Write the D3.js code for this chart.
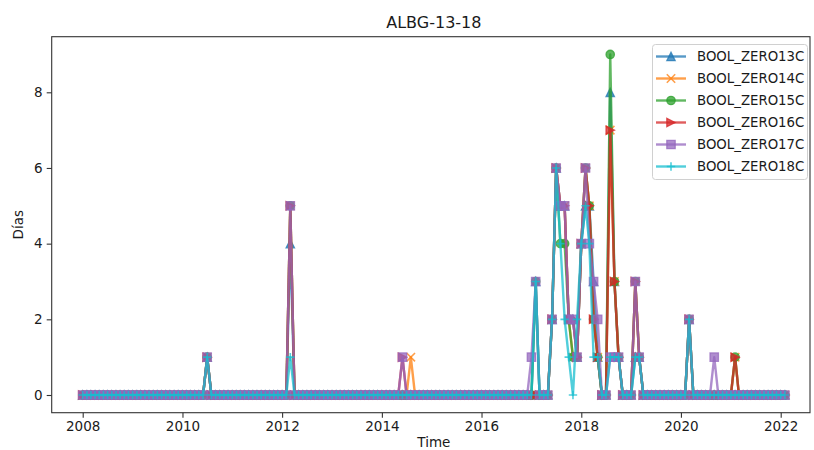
<!DOCTYPE html>
<html><head><meta charset="utf-8">
<script src="https://cdn.jsdelivr.net/npm/d3@7"></script>
<style>
body{margin:0;background:#fff}
svg{display:block}
text{font-family:"DejaVu Sans",sans-serif;fill:#1a1a1a}
</style>
</head><body>
<svg id="chart" width="814" height="450"></svg>
<script>
// ---------- data (monthly, 2008-01 .. 2022-02) ----------
const title = "ALBG-13-18";
const xLabel = "Time";
const yLabel = "Días";
const seriesNames = ["BOOL_ZERO13C","BOOL_ZERO14C","BOOL_ZERO15C","BOOL_ZERO16C","BOOL_ZERO17C","BOOL_ZERO18C"];
const seriesColors = ["#1f77b4","#ff7f0e","#2ca02c","#d62728","#9467bd","#17becf"];
const seriesMarkers = ["triangleUp","x","circle","triangleRight","square","plus"];
const xTickYears = [2008,2010,2012,2014,2016,2018,2020,2022];
const yTickValues = [0,2,4,6,8];
const firstMonth = new Date(2008,0,1);
const endMonth = new Date(2022,2,1); // exclusive

const bool13 = [
 0,0,0,0,0,0,0,0,0,0,0,0, // 2008
 0,0,0,0,0,0,0,0,0,0,0,0, // 2009
 0,0,0,0,0,0,1,0,0,0,0,0, // 2010
 0,0,0,0,0,0,0,0,0,0,0,0, // 2011
 0,0,4,0,0,0,0,0,0,0,0,0, // 2012
 0,0,0,0,0,0,0,0,0,0,0,0, // 2013
 0,0,0,0,0,0,0,0,0,0,0,0, // 2014
 0,0,0,0,0,0,0,0,0,0,0,0, // 2015
 0,0,0,0,0,0,0,0,0,0,0,0, // 2016
 0,3,0,0,0,2,6,5,5,2,2,1, // 2017
 4,5,5,3,1,0,0,8,3,1,0,0, // 2018
 0,1,1,0,0,0,0,0,0,0,0,0, // 2019
 0,0,2,0,0,0,0,0,0,0,0,0, // 2020
 0,0,0,0,0,0,0,0,0,0,0,0, // 2021
 0,0                      // 2022
];
const bool14 = [
 0,0,0,0,0,0,0,0,0,0,0,0,
 0,0,0,0,0,0,0,0,0,0,0,0,
 0,0,0,0,0,0,1,0,0,0,0,0,
 0,0,0,0,0,0,0,0,0,0,0,0,
 0,0,5,0,0,0,0,0,0,0,0,0,
 0,0,0,0,0,0,0,0,0,0,0,0,
 0,0,0,0,0,0,0,1,0,0,0,0,
 0,0,0,0,0,0,0,0,0,0,0,0,
 0,0,0,0,0,0,0,0,0,0,0,0,
 0,0,0,0,0,2,6,5,5,2,1,1,
 4,6,5,2,1,0,0,7,3,1,0,0,
 0,3,1,0,0,0,0,0,0,0,0,0,
 0,0,2,0,0,0,0,0,0,0,0,0,
 0,1,0,0,0,0,0,0,0,0,0,0,
 0,0
];
const bool15 = [
 0,0,0,0,0,0,0,0,0,0,0,0,
 0,0,0,0,0,0,0,0,0,0,0,0,
 0,0,0,0,0,0,1,0,0,0,0,0,
 0,0,0,0,0,0,0,0,0,0,0,0,
 0,0,5,0,0,0,0,0,0,0,0,0,
 0,0,0,0,0,0,0,0,0,0,0,0,
 0,0,0,0,0,0,0,0,0,0,0,0,
 0,0,0,0,0,0,0,0,0,0,0,0,
 0,0,0,0,0,0,0,0,0,0,0,0,
 0,3,0,0,0,2,6,4,4,2,1,1,
 4,6,5,2,1,0,0,9,3,1,0,0,
 0,3,1,0,0,0,0,0,0,0,0,0,
 0,0,2,0,0,0,0,0,0,0,0,0,
 0,1,0,0,0,0,0,0,0,0,0,0,
 0,0
];
const bool16 = [
 0,0,0,0,0,0,0,0,0,0,0,0,
 0,0,0,0,0,0,0,0,0,0,0,0,
 0,0,0,0,0,0,1,0,0,0,0,0,
 0,0,0,0,0,0,0,0,0,0,0,0,
 0,0,5,0,0,0,0,0,0,0,0,0,
 0,0,0,0,0,0,0,0,0,0,0,0,
 0,0,0,0,0,1,0,0,0,0,0,0,
 0,0,0,0,0,0,0,0,0,0,0,0,
 0,0,0,0,0,0,0,0,0,0,0,0,
 0,0,0,0,0,2,6,5,5,2,2,1,
 4,6,5,2,1,0,0,7,3,1,0,0,
 0,3,1,0,0,0,0,0,0,0,0,0,
 0,0,2,0,0,0,0,0,0,0,0,0,
 0,1,0,0,0,0,0,0,0,0,0,0,
 0,0
];
const bool17 = [
 0,0,0,0,0,0,0,0,0,0,0,0,
 0,0,0,0,0,0,0,0,0,0,0,0,
 0,0,0,0,0,0,1,0,0,0,0,0,
 0,0,0,0,0,0,0,0,0,0,0,0,
 0,0,5,0,0,0,0,0,0,0,0,0,
 0,0,0,0,0,0,0,0,0,0,0,0,
 0,0,0,0,0,1,0,0,0,0,0,0,
 0,0,0,0,0,0,0,0,0,0,0,0,
 0,0,0,0,0,0,0,0,0,0,0,0,
 1,3,0,0,0,2,6,5,5,2,2,1,
 4,6,4,3,2,0,0,1,1,1,0,0,
 0,3,1,0,0,0,0,0,0,0,0,0,
 0,0,2,0,0,0,0,0,1,0,0,0,
 0,0,0,0,0,0,0,0,0,0,0,0,
 0,0
];
const bool18 = [
 0,0,0,0,0,0,0,0,0,0,0,0,
 0,0,0,0,0,0,0,0,0,0,0,0,
 0,0,0,0,0,0,1,0,0,0,0,0,
 0,0,0,0,0,0,0,0,0,0,0,0,
 0,0,1,0,0,0,0,0,0,0,0,0,
 0,0,0,0,0,0,0,0,0,0,0,0,
 0,0,0,0,0,0,0,0,0,0,0,0,
 0,0,0,0,0,0,0,0,0,0,0,0,
 0,0,0,0,0,0,0,0,0,0,0,0,
 0,3,0,0,0,2,6,4,2,1,0,2,
 4,5,4,1,1,0,0,1,1,1,0,0,
 0,1,1,0,0,0,0,0,0,0,0,0,
 0,0,2,0,0,0,0,0,0,0,0,0,
 0,0,0,0,0,0,0,0,0,0,0,0,
 0,0
];
const seriesValues = [bool13,bool14,bool15,bool16,bool17,bool18];

// ---------- layout ----------
const svg = d3.select("#chart");
const plot = {left:51.7, right:810, top:36.7, bottom:412.7};
const dates = d3.timeMonth.range(firstMonth, endMonth);

const x = d3.scaleTime()
  .domain([new Date(2008,0,1), new Date(2022,0,1)])
  .range([82.7, 780.7]);
const y = d3.scaleLinear()
  .domain([0, 8])
  .range([395, 92.3]);

const alpha = 0.75;
const msize = 8.4;

function markerPath(type, s){
  const h = s/2;
  switch(type){
    case "triangleUp": return `M0,${-h}L${-h},${h}L${h},${h}Z`;
    case "triangleRight": return `M${h},0L${-h},${-h}L${-h},${h}Z`;
    case "square": return `M${-h},${-h}H${h}V${h}H${-h}Z`;
    case "circle": return `M${h},0A${h},${h},0,1,1,${-h},0A${h},${h},0,1,1,${h},0Z`;
    case "x": return `M${-h},${-h}L${h},${h}M${-h},${h}L${h},${-h}`;
    case "plus": return `M${-h},0H${h}M0,${-h}V${h}`;
  }
}
function drawMarker(g, type, color, cx, cy){
  const open = (type==="x"||type==="plus");
  g.append("path")
    .attr("d", markerPath(type, msize))
    .attr("transform", `translate(${cx},${cy})`)
    .attr("fill", open ? "none" : color)
    .attr("fill-opacity", alpha)
    .attr("stroke", color)
    .attr("stroke-opacity", alpha)
    .attr("stroke-width", open ? 1.6 : 1.3)
    .attr("stroke-linejoin","miter");
}

// ---------- series ----------
const line = d3.line().x(d=>x(d.date)).y(d=>y(d.value));
const gSeries = svg.append("g");
seriesNames.forEach((name,i)=>{
  const pts = dates.map((d,j)=>({date:d, value:seriesValues[i][j]}));
  const g = gSeries.append("g");
  g.append("path")
    .datum(pts)
    .attr("d", line)
    .attr("fill","none")
    .attr("stroke", seriesColors[i])
    .attr("stroke-opacity", alpha)
    .attr("stroke-width", 2.4)
    .attr("stroke-linejoin","round");
  pts.forEach(p=>drawMarker(g, seriesMarkers[i], seriesColors[i], x(p.date), y(p.value)));
});

// ---------- axes ----------
svg.append("rect")
  .attr("x", plot.left).attr("y", plot.top)
  .attr("width", plot.right-plot.left).attr("height", plot.bottom-plot.top)
  .attr("fill","none").attr("stroke","#333").attr("stroke-width",1.1);

const xAxis = d3.axisBottom(x)
  .tickValues(xTickYears.map(yy=>new Date(yy,0,1)))
  .tickFormat(d3.timeFormat("%Y"))
  .tickSize(5).tickPadding(4);
const gx = svg.append("g").attr("transform",`translate(0,${plot.bottom})`).call(xAxis);
gx.select(".domain").remove();
gx.selectAll(".tick line").attr("stroke","#333").attr("stroke-width",1.1);
gx.selectAll(".tick text").attr("font-size","13.5px").attr("fill","#1a1a1a")
  .attr("font-family","DejaVu Sans, sans-serif");

const yAxis = d3.axisLeft(y).tickValues(yTickValues).tickSize(5).tickPadding(4);
const gy = svg.append("g").attr("transform",`translate(${plot.left},0)`).call(yAxis);
gy.select(".domain").remove();
gy.selectAll(".tick line").attr("stroke","#333").attr("stroke-width",1.1);
gy.selectAll(".tick text").attr("font-size","13.5px").attr("fill","#1a1a1a")
  .attr("font-family","DejaVu Sans, sans-serif");

// ---------- labels ----------
svg.append("text").attr("x",(plot.left+plot.right)/2+3).attr("y",28)
  .attr("text-anchor","middle").attr("font-size","16px").text(title);
svg.append("text").attr("x",(plot.left+plot.right)/2+3).attr("y",447)
  .attr("text-anchor","middle").attr("font-size","13.5px").text(xLabel);
svg.append("text").attr("transform",`translate(23,${(plot.top+plot.bottom)/2}) rotate(-90)`)
  .attr("text-anchor","middle").attr("font-size","13.5px").text(yLabel);

// ---------- legend ----------
const lg = svg.append("g");
lg.append("rect").attr("x",652.5).attr("y",44.5).attr("width",155).attr("height",135)
  .attr("rx",3).attr("fill","#fff").attr("fill-opacity",0.8)
  .attr("stroke","#d0d0d0").attr("stroke-width",1);
seriesNames.forEach((name,i)=>{
  const cy = 56.5 + i*22;
  lg.append("line").attr("x1",656).attr("x2",686).attr("y1",cy).attr("y2",cy)
    .attr("stroke",seriesColors[i]).attr("stroke-opacity",alpha).attr("stroke-width",2.4);
  drawMarker(lg, seriesMarkers[i], seriesColors[i], 671, cy);
  lg.append("text").attr("x",697).attr("y",cy).attr("dy","0.36em")
    .attr("font-size","13.3px").text(name);
});
</script>
</body></html>
